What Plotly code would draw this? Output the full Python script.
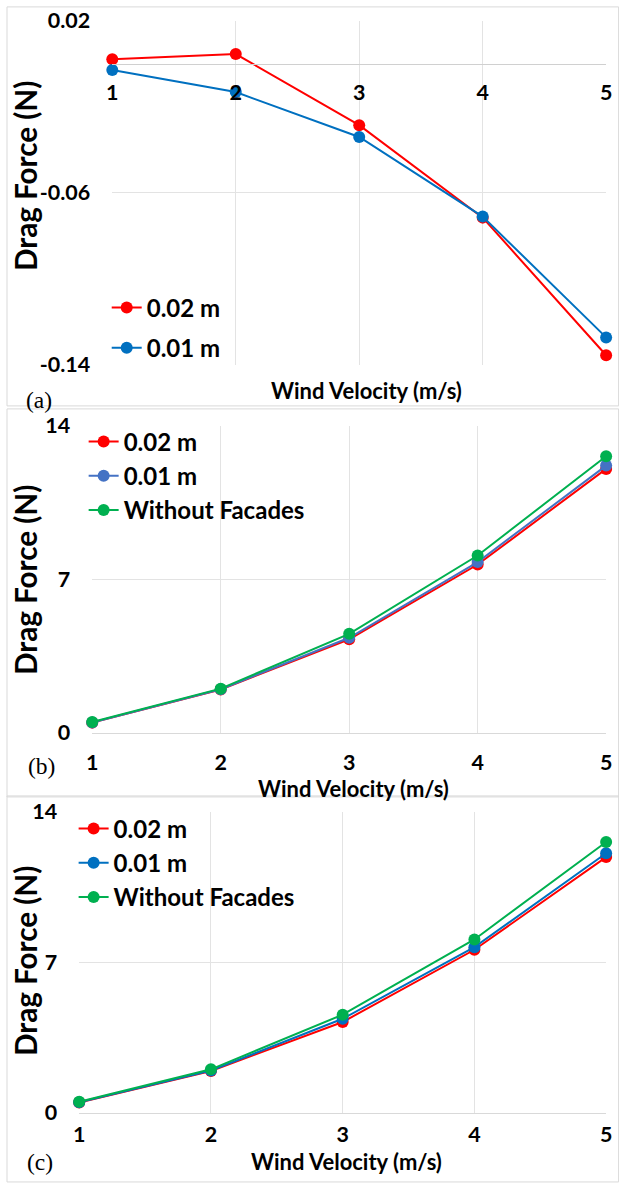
import plotly.graph_objects as go

W, H = 619, 1184

# ---------------- data ----------------
velocity = [1, 2, 3, 4, 5]

a_002 = [0.0022, 0.0046, -0.0285, -0.0715, -0.1355]
a_001 = [-0.0028, -0.0131, -0.0340, -0.0710, -0.1272]

b_002 = [0.47, 1.98, 4.27, 7.68, 12.04]
b_001 = [0.48, 1.99, 4.34, 7.79, 12.19]
b_wf = [0.50, 2.02, 4.52, 8.09, 12.62]

c_002 = [0.49, 1.95, 4.23, 7.59, 11.90]
c_001 = [0.50, 1.97, 4.38, 7.71, 12.08]
c_wf = [0.52, 2.03, 4.57, 8.07, 12.60]

series_names = ["0.02 m", "0.01 m", "Without Facades"]

a_yticks = [0.02, -0.06, -0.14]
a_yticktext = ["0.02", "-0.06", "-0.14"]
bc_yticks = [0, 7, 14]
bc_yticktext = ["0", "7", "14"]
xticks = [1, 2, 3, 4, 5]
xticktext = ["1", "2", "3", "4", "5"]

x_title = "Wind Velocity (m/s)"
y_title = "Drag Force (N)"
panel_labels = ["(a)", "(b)", "(c)"]

# ---------------- style ----------------
RED = "#FF0000"
BLUE_A = "#0070C0"
BLUE_B = "#4472C4"
BLUE_C = "#0070C0"
GREEN = "#00B050"
GRID = "#E3E3E3"
FONT = "Lato"

# the page photo is slightly scaled about its centre; compensate
S, OX, OY = 0.978, 7.0, 14.1


def lx(t):  # layout pixel from target pixel (x)
    return (t - OX) / S


def ly(t):  # layout pixel from target pixel (y)
    return (t - OY) / S


def px(t):
    return lx(t) / W


def py(t):
    return 1 - ly(t) / H


def fs(v):
    return v / S


RIGHT = 612 / W  # keep the last category (and its label) inside the canvas

fig = go.Figure()


def add_series(xs, ys, name, color, xa, ya, legend, group):
    fig.add_trace(go.Scatter(
        x=xs, y=ys, name=name, mode="lines+markers",
        line=dict(color=color, width=2),
        marker=dict(color=color, size=12),
        xaxis=xa, yaxis=ya, legend=legend, legendgroup=group,
        cliponaxis=False,
    ))


add_series(velocity, a_002, series_names[0], RED, "x", "y", "legend", "a1")
add_series(velocity, a_001, series_names[1], BLUE_A, "x", "y", "legend", "a2")

add_series(velocity, b_002, series_names[0], RED, "x2", "y2", "legend2", "b1")
add_series(velocity, b_001, series_names[1], BLUE_B, "x2", "y2", "legend2", "b2")
add_series(velocity, b_wf, series_names[2], GREEN, "x2", "y2", "legend2", "b3")

add_series(velocity, c_002, series_names[0], RED, "x3", "y3", "legend3", "c1")
add_series(velocity, c_001, series_names[1], BLUE_C, "x3", "y3", "legend3", "c2")
add_series(velocity, c_wf, series_names[2], GREEN, "x3", "y3", "legend3", "c3")

tickfont = dict(family=FONT, size=fs(21), color="#000000", weight="bold")

# panel domains (target pixels)
a_dom_x = [px(113), RIGHT]
a_dom_y = [py(366), py(22)]
b_dom_x = [px(93), RIGHT]
b_dom_y = [py(734), py(427)]
c_dom_x = [px(80), RIGHT]
c_dom_y = [py(1114), py(813)]

a_range = [-0.14, 0.02]
# position of y = 0 in panel (a), computed through the axis scale
a_zero_pos = a_dom_y[0] + (0 - a_range[0]) / (a_range[1] - a_range[0]) * (a_dom_y[1] - a_dom_y[0])

common_x = dict(range=[1, 5], tickvals=xticks, ticktext=xticktext, showgrid=True,
                gridcolor=GRID, gridwidth=1, zeroline=False, tickfont=tickfont,
                ticks="")
common_y = dict(showgrid=True, gridcolor=GRID, gridwidth=1, zeroline=False,
                tickfont=tickfont, ticks="", ticklabelstandoff=21)

legend_font = dict(family=FONT, size=fs(23.5), color="#000000", weight="bold")


def legend_box(x_marker, y_first, gap):
    # legend box placed from where the first symbol should appear
    return dict(x=(lx(x_marker) - 20) / W, y=1 - (ly(y_first) - 24) / H,
                xanchor="left", yanchor="top", font=legend_font,
                bgcolor="rgba(0,0,0,0)", itemwidth=30, traceorder="grouped",
                tracegroupgap=gap)


fig.update_layout(
    width=W, height=H,
    margin=dict(l=0, r=0, t=0, b=0),
    paper_bgcolor="white", plot_bgcolor="white",
    xaxis=dict(domain=a_dom_x, anchor="free", position=a_zero_pos,
               showline=True, linecolor="#D0D0D0", linewidth=1,
               ticklabelstandoff=9, **common_x),
    yaxis=dict(domain=a_dom_y, anchor="x", range=a_range, tickvals=a_yticks,
               ticktext=a_yticktext, **common_y),
    xaxis2=dict(domain=b_dom_x, anchor="y2", showline=True, linecolor="#D9D9D9",
                linewidth=1, ticklabelstandoff=10, **common_x),
    yaxis2=dict(domain=b_dom_y, anchor="x2", range=[0, 14], tickvals=bc_yticks,
                ticktext=bc_yticktext, **common_y),
    xaxis3=dict(domain=c_dom_x, anchor="y3", showline=True, linecolor="#D9D9D9",
                linewidth=1, ticklabelstandoff=2, **common_x),
    yaxis3=dict(domain=c_dom_y, anchor="x3", range=[0, 14], tickvals=bc_yticks,
                ticktext=bc_yticktext, **common_y),
    legend=legend_box(127, 310, 6),
    legend2=legend_box(104, 444, 0),
    legend3=legend_box(94, 831, 0),
    showlegend=True,
)

# chart-area borders
for y0, y1 in [(8, 407), (410, 798), (797, 1183)]:
    fig.add_shape(type="rect", xref="paper", yref="paper",
                  x0=px(8), x1=px(618), y0=py(y1), y1=py(y0),
                  line=dict(color="#D9D9D9", width=1), layer="below")

ytitle_font = dict(family=FONT, size=fs(29), color="#000000", weight="bold")
xtitle_font = dict(family=FONT, size=fs(21.5), color="#000000", weight="bold")
for (xx, yy) in [(27, 177), (27, 581), (27, 962)]:
    fig.add_annotation(text=y_title, x=px(xx), y=py(yy), xref="paper", yref="paper",
                       showarrow=False, textangle=-90, font=ytitle_font,
                       xanchor="center", yanchor="middle")
for (xx, yy) in [(367, 392), (354, 790), (347, 1163)]:
    fig.add_annotation(text=x_title, x=px(xx), y=py(yy), xref="paper", yref="paper",
                       showarrow=False, font=xtitle_font, xanchor="center", yanchor="middle")
for lab, (xx, yy) in zip(panel_labels, [(40, 401), (42, 767), (41, 1163)]):
    fig.add_annotation(text=lab, x=px(xx), y=py(yy), xref="paper", yref="paper",
                       showarrow=False,
                       font=dict(family="Liberation Serif", size=fs(23), color="#000000"),
                       xanchor="center", yanchor="middle")

fig.write_html(
    "out.html",
    config={"displayModeBar": False},
    post_script="document.body.style.margin='0';document.body.style.overflow='hidden';",
)
